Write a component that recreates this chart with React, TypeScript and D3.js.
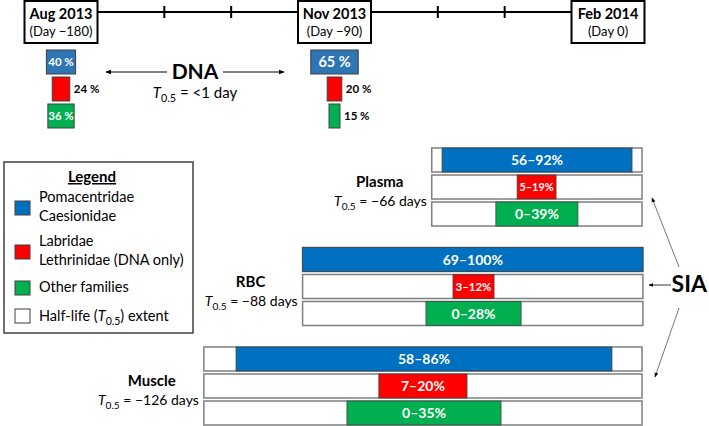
import React from "react";
import * as d3 from "d3";

const timeLabels = ["Aug 2013", "Nov 2013", "Feb 2014"];
const timeSubLabels = ["(Day \u2212180)", "(Day \u221290)", "(Day 0)"];
const timeDays = [-180, -90, 0];

const familyKeys = ["blue", "red", "green"];
const dnaAug = [40, 24, 36];
const dnaNov = [65, 20, 15];

const tissues = ["Plasma", "RBC", "Muscle"];
const halfLives = ["\u221266", "\u221288", "\u2212126"];
const boxStart = [-58, -100.5, -133];
const boxEnd = [11.2, 11.5, 11.2];
const blueLabels = ["56\u201392%", "69\u2013100%", "58\u201386%"];
const blueSpan = [[-54.6, 7.9], [-100.5, 11.5], [-122.4, 1.3]];
const redLabels = ["5\u201319%", "3\u201312%", "7\u201320%"];
const redSpan = [[-29.9, -17.1], [-51, -37.5], [-75.4, -46.4]];
const greenLabels = ["0\u201339%", "0\u201328%", "0\u201335%"];
const greenSpan = [[-36.9, -9.9], [-59.9, -28.6], [-85.9, -35.2]];

const legendItems = [
  ["Pomacentridae", "Caesionidae"],
  ["Labridae", "Lethrinidae (DNA only)"],
  ["Other families"],
];

const FONT = "Lato, 'Open Sans', sans-serif";
const dnaColors: Record<string, string> = { blue: "#2E75B6", red: "#FF0000", green: "#00B050" };
const siaColors: Record<string, string> = { blue: "#0070C0", red: "#FF0000", green: "#00B050" };

function THalf({ x, y, anchor, rest, size }: any) {
  return (
    <text x={x} y={y} textAnchor={anchor} fontFamily={FONT} fontSize={size} fill="#000">
      <tspan fontStyle="italic">T</tspan>
      <tspan fontSize={size * 0.72} dy={4}>0.5</tspan>
      <tspan dy={-4}>{rest}</tspan>
    </text>
  );
}

export default function App() {
  const W = 709, H = 426;
  const xDay = d3.scaleLinear().domain([-180, 0]).range([61, 608]);
  const xPct = d3.scaleLinear().domain([0, 100]).range([0, 73]);
  const boxW = 73, boxTop = 1, boxH = 42, lineY = 12;
  const dnaRowY = d3.scaleLinear().domain([0, 1]).range([50, 77]);
  const dnaRowH = 24;
  const tissueY = d3.scalePoint<string>().domain(tissues).range([148, 347]);
  const rowPitch = 27, rowH = 24;

  const ticks: number[] = [];
  for (let i = 0; i < timeDays.length - 1; i++) {
    const a = xDay(timeDays[i]) + boxW / 2;
    const b = xDay(timeDays[i + 1]) - boxW / 2;
    ticks.push(a + (b - a) / 3, a + (2 * (b - a)) / 3);
  }

  const dnaSets = [dnaAug, dnaNov];
  const dnaDays = [-180, -90];

  return (
    <svg width={W} height={H} style={{ position: "absolute", left: 0, top: 0, background: "#fff" }}>
      <defs>
        <marker id="ah" viewBox="0 0 10 10" refX="9" refY="5" markerWidth="6" markerHeight="6" orient="auto-start-reverse">
          <path d="M0,1 L10,5 L0,9 z" fill="#000" />
        </marker>
      </defs>
      <rect width={W} height={H} fill="#fff" />

      {/* timeline */}
      <line x1={xDay(-180) + boxW / 2} x2={xDay(0) - boxW / 2} y1={lineY} y2={lineY} stroke="#000" strokeWidth={2} />
      {ticks.map((t, i) => (
        <line key={i} x1={t} x2={t} y1={lineY - 6} y2={lineY + 6} stroke="#000" strokeWidth={2} />
      ))}
      {timeDays.map((d, i) => (
        <g key={i}>
          <rect x={xDay(d) - boxW / 2} y={boxTop} width={boxW} height={boxH} fill="#fff" stroke="#000" strokeWidth={2} />
          <text x={xDay(d)} y={19} textAnchor="middle" fontFamily={FONT} fontWeight="bold" fontSize={14.5}>{timeLabels[i]}</text>
          <text x={xDay(d)} y={36} textAnchor="middle" fontFamily={FONT} fontSize={13}>{timeSubLabels[i]}</text>
        </g>
      ))}

      {/* DNA bars */}
      {dnaSets.map((set, si) =>
        set.map((v, fi) => {
          const w = xPct(v);
          const cx = xDay(dnaDays[si]);
          const y = dnaRowY(fi);
          const inside = w > 25;
          const fs = fi === 0 && w > 40 ? 14.5 : 11.5;
          return (
            <g key={si + "-" + fi}>
              <rect x={cx - w / 2} y={y} width={w} height={dnaRowH} fill={dnaColors[familyKeys[fi]]} stroke="#404040" strokeWidth={1} />
              <text
                x={inside ? cx : cx + w / 2 + 4}
                y={y + dnaRowH / 2 + fs * 0.36}
                textAnchor={inside ? "middle" : "start"}
                fontFamily={FONT}
                fontWeight="bold"
                fontSize={fs}
                fill={inside ? "#fff" : "#000"}
              >
                {v + " %"}
              </text>
            </g>
          );
        })
      )}

      {/* DNA label */}
      <text x={195} y={79} textAnchor="middle" fontFamily={FONT} fontWeight="bold" fontSize={21}>DNA</text>
      <line x1={167} x2={106} y1={72} y2={72} stroke="#000" strokeWidth={1} markerEnd="url(#ah)" />
      <line x1={223} x2={284} y1={72} y2={72} stroke="#000" strokeWidth={1} markerEnd="url(#ah)" />
      <THalf x={195} y={98} anchor="middle" rest=" = <1 day" size={15} />

      {/* Legend */}
      <rect x={4} y={162} width={189} height={171} fill="#fff" stroke="#404040" strokeWidth={1.5} />
      <text x={92} y={182} textAnchor="middle" fontFamily={FONT} fontWeight="bold" fontSize={15} textDecoration="underline">Legend</text>
      {legendItems.map((lines, i) => {
        const base = [202, 246, 292][i];
        const swY = lines.length > 1 ? base - 1 : base - 11;
        return (
          <g key={i}>
            <rect x={15} y={swY} width={15} height={14} fill={siaColors[familyKeys[i]]} stroke="#404040" strokeWidth={1} />
            {lines.map((l, j) => (
              <text key={j} x={39} y={base + j * 19} fontFamily={FONT} fontSize={14.5}>{l}</text>
            ))}
          </g>
        );
      })}
      <rect x={15} y={309} width={15} height={14} fill="#fff" stroke="#404040" strokeWidth={1} />
      <text x={39} y={321} fontFamily={FONT} fontSize={14.5}>
        <tspan>Half-life (</tspan>
        <tspan fontStyle="italic">T</tspan>
        <tspan fontSize={10.5} dy={4}>0.5</tspan>
        <tspan dy={-4}>) extent</tspan>
      </text>

      {/* SIA blocks */}
      {tissues.map((t, ti) => {
        const top = tissueY(t)!;
        const x0 = xDay(boxStart[ti]);
        const x1 = xDay(boxEnd[ti]);
        const spans = [blueSpan[ti], redSpan[ti], greenSpan[ti]];
        const labels = [blueLabels[ti], redLabels[ti], greenLabels[ti]];
        const tEnd = x0 - 5;
        return (
          <g key={t}>
            {spans.map((s, r) => {
              const y = top + r * rowPitch;
              const sx0 = xDay(s[0]);
              const sx1 = xDay(s[1]);
              const sw = sx1 - sx0;
              const fs = Math.min(14, sw * 0.28);
              return (
                <g key={r}>
                  <rect x={x0} y={y} width={x1 - x0} height={rowH} fill="#fff" stroke="#7F7F7F" strokeWidth={1.5} />
                  <rect x={sx0} y={y} width={sw} height={rowH} fill={siaColors[familyKeys[r]]} stroke="#404040" strokeWidth={0.8} />
                  <text x={(sx0 + sx1) / 2} y={y + rowH / 2 + fs * 0.36} textAnchor="middle" fontFamily={FONT} fontWeight="bold" fontSize={fs} fill="#fff">
                    {labels[r]}
                  </text>
                </g>
              );
            })}
            <text x={tEnd - 47} y={top + 39} textAnchor="middle" fontFamily={FONT} fontWeight="bold" fontSize={15}>{t}</text>
            <THalf x={tEnd} y={top + 58} anchor="end" rest={" = " + halfLives[ti] + " days"} size={14} />
          </g>
        );
      })}

      {/* SIA label and arrows */}
      <text x={707} y={292} textAnchor="end" fontFamily={FONT} fontWeight="bold" fontSize={23}>SIA</text>
      <line x1={671} y1={285} x2={649} y2={285} stroke="#000" strokeWidth={0.8} markerEnd="url(#ah)" />
      <line x1={679} y1={267} x2={652} y2={198} stroke="#555" strokeWidth={0.8} markerEnd="url(#ah)" />
      <line x1={679} y1={308} x2={655} y2={377} stroke="#555" strokeWidth={0.8} markerEnd="url(#ah)" />
    </svg>
  );
}
